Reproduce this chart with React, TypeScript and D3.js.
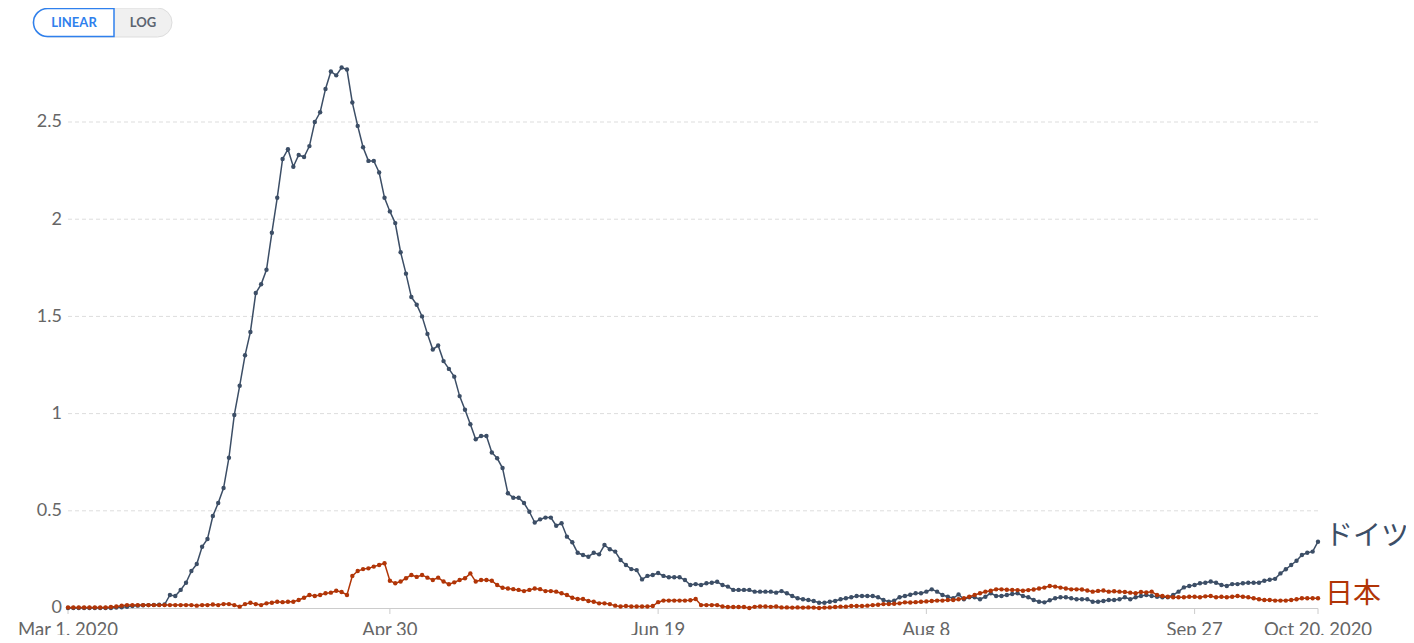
import * as d3 from "d3";
import { useEffect, useRef } from "react";

// daily values, Mar 1 2020 .. Oct 20 2020 (one per day, split by month)
const germanyMar = [0, 0, 0, 0, 0, 0, 0, 0, 0, 0.002, 0.004, 0.006, 0.01, 0.012, 0.014, 0.015, 0.016, 0.017, 0.018, 0.067, 0.062, 0.093, 0.13, 0.19, 0.226, 0.315, 0.355, 0.473, 0.54, 0.617, 0.773];
const germanyApr = [0.993, 1.143, 1.3, 1.42, 1.62, 1.665, 1.74, 1.93, 2.11, 2.31, 2.36, 2.27, 2.33, 2.32, 2.376, 2.5, 2.55, 2.67, 2.76, 2.74, 2.78, 2.77, 2.6, 2.48, 2.37, 2.3, 2.3, 2.24, 2.11, 2.04];
const germanyMay = [1.98, 1.83, 1.72, 1.6, 1.56, 1.5, 1.41, 1.33, 1.35, 1.27, 1.23, 1.19, 1.09, 1.02, 0.945, 0.868, 0.885, 0.885, 0.8, 0.77, 0.72, 0.59, 0.567, 0.567, 0.54, 0.495, 0.44, 0.456, 0.465, 0.465, 0.423];
const germanyJun = [0.436, 0.367, 0.338, 0.284, 0.273, 0.264, 0.284, 0.276, 0.324, 0.302, 0.29, 0.247, 0.221, 0.2, 0.195, 0.147, 0.165, 0.17, 0.18, 0.165, 0.158, 0.158, 0.158, 0.144, 0.118, 0.123, 0.118, 0.127, 0.13, 0.135];
const germanyJul = [0.118, 0.11, 0.093, 0.093, 0.093, 0.093, 0.084, 0.084, 0.084, 0.084, 0.079, 0.087, 0.076, 0.062, 0.05, 0.045, 0.041, 0.036, 0.027, 0.027, 0.032, 0.036, 0.045, 0.05, 0.055, 0.062, 0.062, 0.062, 0.062, 0.055, 0.041];
const germanyAug = [0.032, 0.038, 0.055, 0.062, 0.068, 0.076, 0.076, 0.084, 0.096, 0.084, 0.067, 0.058, 0.05, 0.07, 0.045, 0.055, 0.055, 0.045, 0.058, 0.076, 0.062, 0.062, 0.067, 0.072, 0.076, 0.062, 0.055, 0.041, 0.032, 0.029, 0.04];
const germanySep = [0.05, 0.055, 0.055, 0.05, 0.045, 0.045, 0.045, 0.032, 0.032, 0.036, 0.041, 0.041, 0.045, 0.055, 0.045, 0.055, 0.062, 0.067, 0.062, 0.058, 0.055, 0.055, 0.067, 0.084, 0.106, 0.113, 0.118, 0.127, 0.13, 0.136];
const germanyOct = [0.13, 0.118, 0.113, 0.123, 0.123, 0.127, 0.13, 0.13, 0.13, 0.14, 0.145, 0.15, 0.178, 0.199, 0.221, 0.243, 0.273, 0.284, 0.29, 0.341];

const japanMar = [0.003, 0.003, 0.003, 0.003, 0.003, 0.003, 0.003, 0.003, 0.005, 0.008, 0.012, 0.015, 0.015, 0.015, 0.015, 0.015, 0.015, 0.015, 0.015, 0.015, 0.015, 0.015, 0.015, 0.015, 0.012, 0.015, 0.015, 0.018, 0.015, 0.02, 0.02];
const japanApr = [0.015, 0.007, 0.02, 0.027, 0.02, 0.015, 0.024, 0.027, 0.032, 0.03, 0.032, 0.032, 0.041, 0.053, 0.067, 0.062, 0.067, 0.076, 0.079, 0.089, 0.082, 0.067, 0.165, 0.19, 0.2, 0.204, 0.213, 0.221, 0.23, 0.14];
const japanMay = [0.127, 0.136, 0.153, 0.17, 0.16, 0.17, 0.156, 0.144, 0.156, 0.136, 0.122, 0.132, 0.144, 0.153, 0.178, 0.136, 0.144, 0.144, 0.14, 0.118, 0.104, 0.1, 0.097, 0.093, 0.087, 0.093, 0.1, 0.097, 0.087, 0.087, 0.084];
const japanJun = [0.076, 0.067, 0.053, 0.046, 0.046, 0.036, 0.032, 0.024, 0.024, 0.02, 0.012, 0.008, 0.01, 0.008, 0.008, 0.008, 0.008, 0.01, 0.03, 0.038, 0.038, 0.038, 0.038, 0.038, 0.04, 0.046, 0.015, 0.015, 0.015, 0.015];
const japanJul = [0.008, 0.005, 0.005, 0.005, 0.005, 0, 0.006, 0.008, 0.008, 0.006, 0.008, 0.003, 0.003, 0.002, 0.003, 0.002, 0.003, 0.002, 0, 0.002, 0.003, 0.005, 0.007, 0.007, 0.01, 0.01, 0.01, 0.012, 0.015, 0.017, 0.02];
const japanAug = [0.02, 0.022, 0.024, 0.029, 0.028, 0.03, 0.032, 0.034, 0.036, 0.038, 0.038, 0.041, 0.041, 0.045, 0.05, 0.058, 0.067, 0.076, 0.084, 0.089, 0.096, 0.096, 0.094, 0.093, 0.092, 0.089, 0.092, 0.095, 0.1, 0.105, 0.113];
const japanSep = [0.11, 0.105, 0.1, 0.096, 0.096, 0.095, 0.09, 0.084, 0.088, 0.09, 0.084, 0.086, 0.084, 0.082, 0.079, 0.076, 0.082, 0.08, 0.084, 0.067, 0.062, 0.058, 0.055, 0.055, 0.055, 0.058, 0.058, 0.055, 0.06, 0.062];
const japanOct = [0.055, 0.058, 0.055, 0.058, 0.062, 0.058, 0.055, 0.05, 0.045, 0.041, 0.041, 0.038, 0.038, 0.038, 0.041, 0.045, 0.05, 0.05, 0.05, 0.05];

const seriesNames = ["ドイツ", "日本"];
const seriesColors = ["#3C4E66", "#B13507"];
const yTicks = [0, 0.5, 1, 1.5, 2, 2.5];
const xTickDates = ["2020-03-01", "2020-04-30", "2020-06-19", "2020-08-08", "2020-09-27", "2020-10-20"];
const xTickLabels = ["Mar 1, 2020", "Apr 30", "Jun 19", "Aug 8", "Sep 27", "Oct 20, 2020"];

const germany = [...germanyMar, ...germanyApr, ...germanyMay, ...germanyJun, ...germanyJul, ...germanyAug, ...germanySep, ...germanyOct];
const japan = [...japanMar, ...japanApr, ...japanMay, ...japanJun, ...japanJul, ...japanAug, ...japanSep, ...japanOct];

const W = 1414;
const H = 643;
const FONT = "Lato, 'Noto Sans CJK JP', sans-serif";

const App = () => {
  const svgRef = useRef(null);

  useEffect(() => {
    const svg = d3.select(svgRef.current);
    svg.selectAll("*").remove();

    const start = new Date(2020, 2, 1);
    const end = new Date(2020, 9, 20);
    const x = d3.scaleTime().domain([start, end]).range([68, 1318]);
    const y = d3.scaleLinear().domain([0, 2.5]).range([608, 122]);
    const dayOf = (i) => d3.timeDay.offset(start, i);

    // toggle buttons
    const tg = svg.append("g");
    tg.append("rect").attr("x", 33).attr("y", 8).attr("width", 139).attr("height", 29).attr("rx", 14.5)
      .attr("fill", "#f0f0f0").attr("stroke", "#ddd");
    tg.append("path")
      .attr("d", "M114,8.5 H47.5 A14,14 0 0 0 47.5,36.5 H114 Z")
      .attr("fill", "#fff").attr("stroke", "#2f80ed").attr("stroke-width", 1.5);
    tg.append("text").attr("x", 74).attr("y", 27).attr("text-anchor", "middle")
      .attr("font-family", FONT).attr("font-size", 13).attr("font-weight", 700).attr("fill", "#2f80ed").text("LINEAR");
    tg.append("text").attr("x", 143).attr("y", 27).attr("text-anchor", "middle")
      .attr("font-family", FONT).attr("font-size", 13).attr("font-weight", 700).attr("fill", "#5b6470").text("LOG");

    // grid + y labels
    yTicks.forEach((t) => {
      if (t > 0) {
        svg.append("line").attr("x1", 68).attr("x2", 1318).attr("y1", y(t)).attr("y2", y(t))
          .attr("stroke", "#ddd").attr("stroke-dasharray", "4,3");
      }
      svg.append("text").attr("x", 62).attr("y", y(t) - 1).attr("dy", "0.35em").attr("text-anchor", "end")
        .attr("font-family", FONT).attr("font-size", 18).attr("fill", "#666").text(String(t));
    });

    // x axis
    svg.append("line").attr("x1", 68).attr("x2", 1318).attr("y1", 608.5).attr("y2", 608.5).attr("stroke", "#ccc");
    xTickDates.forEach((ds, i) => {
      const [yy, mm, dd] = ds.split("-").map(Number);
      const px = x(new Date(yy, mm - 1, dd));
      svg.append("line").attr("x1", px).attr("x2", px).attr("y1", 608.5).attr("y2", 614).attr("stroke", "#ccc");
      svg.append("text").attr("x", px).attr("y", 636).attr("text-anchor", "middle")
        .attr("font-family", FONT).attr("font-size", 18.5).attr("fill", "#666").text(xTickLabels[i]);
    });

    const line = d3.line().x((d, i) => x(dayOf(i))).y((d) => y(d));
    [germany, japan].forEach((data, k) => {
      const g = svg.append("g");
      g.append("path").attr("d", line(data)).attr("fill", "none").attr("stroke", seriesColors[k]).attr("stroke-width", 1.5);
      g.selectAll("circle").data(data).enter().append("circle")
        .attr("cx", (d, i) => x(dayOf(i))).attr("cy", (d) => y(d)).attr("r", 2.2).attr("fill", seriesColors[k]);
    });

    // series labels
    const lastG = germany[germany.length - 1];
    svg.append("text").attr("x", 1325).attr("y", y(lastG) - 7).attr("dy", "0.35em")
      .attr("font-family", FONT).attr("font-size", 28).attr("fill", seriesColors[0]).text(seriesNames[0]);
    svg.append("text").attr("x", 1325).attr("y", y(0.075)).attr("dy", "0.35em")
      .attr("font-family", FONT).attr("font-size", 28).attr("fill", seriesColors[1]).text(seriesNames[1]);
  }, []);

  return (
    <div style={{ margin: -8 }}>
      <svg ref={svgRef} width={W} height={H} style={{ display: "block", background: "#fff" }} />
    </div>
  );
};

export default App;
